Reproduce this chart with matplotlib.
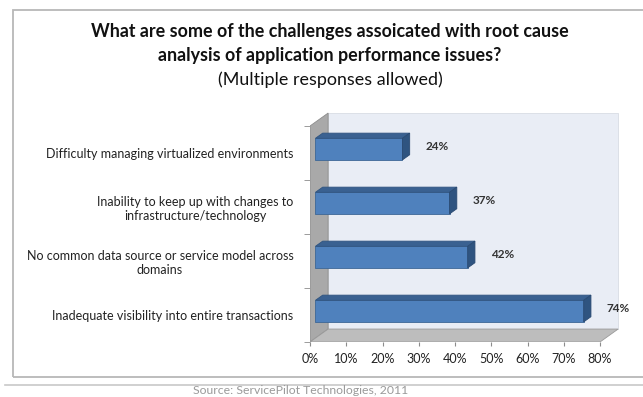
import matplotlib
matplotlib.use("Agg")
import matplotlib.pyplot as plt
from matplotlib.patches import Polygon, Rectangle
from matplotlib.lines import Line2D

plt.rcParams["font.family"] = ["Lato", "DejaVu Sans"]

# data (bottom to top)
categories = [
    "Inadequate visibility into entire transactions",
    "No common data source or service model across\ndomains",
    "Inability to keep up with changes to\ninfrastructure/technology",
    "Difficulty managing virtualized environments",
]
values = [74, 42, 37, 24]
xticks = [0, 10, 20, 30, 40, 50, 60, 70, 80]
xticklabels = [f"{t}%" for t in xticks]
title_lines = ["What are some of the challenges assoicated with root cause",
               "analysis of application performance issues?"]
subtitle = "(Multiple responses allowed)"
source = "Source: ServicePilot Technologies, 2011"

W, H = 643, 397
fig = plt.figure(figsize=(W / 100, H / 100), dpi=100)

# frame around the whole chart, plus the rule under it
fig.add_artist(Rectangle((13 / W, (H - 377) / H), (660 - 13) / W, (377 - 10) / H,
                         transform=fig.transFigure, fill=False, edgecolor="#b8b8b8", lw=1.3))
fig.add_artist(Line2D([5 / W, 1], [(H - 385) / H] * 2, transform=fig.transFigure, color="#c8c8c8", lw=1.2))

for k, line in enumerate(title_lines):
    fig.text(330 / W, 1 - (32 + 24 * k) / H, line, ha="center", va="center", fontsize=12.9,
             fontweight="bold", color="#111111")
fig.text(330 / W, 1 - 80 / H, subtitle, ha="center", va="center", fontsize=12.9, color="#111111")
fig.text(301 / W, 1 - 391 / H, source, ha="center", va="center", fontsize=8.8, color="#9a9a9a")

# plot area: front axis 0..80% spans px 310..600, categories 54 px apart
px_per_pct = 3.625
px_per_cat = 54
ax = fig.add_axes([310 / W, (H - 342) / H, (622 - 310) / W, (342 - 112) / H])
ax.set_xlim(0, (622 - 310) / px_per_pct)
ax.set_ylim(-0.5, -0.5 + (342 - 112) / px_per_cat)
for s in ax.spines.values():
    s.set_visible(False)
ax.set_facecolor("none")

DX, DY = 5.0, 0.24     # depth of the 3d box in data units
f0, f1 = 0.3, 0.7      # bar depth span
top = len(values) - 0.5
xmax = xticks[-1]

ax.add_patch(Polygon([(DX, -0.5 + DY), (xmax + DX, -0.5 + DY), (xmax + DX, top + DY), (DX, top + DY)],
                     closed=True, facecolor="#e9edf5", edgecolor="#d8dce4", lw=0.6, zorder=1))
ax.add_patch(Polygon([(0, -0.5), (DX, -0.5 + DY), (DX, top + DY), (0, top)],
                     closed=True, facecolor="#a9a9a9", edgecolor="#8c8c8c", lw=0.6, zorder=2))
ax.add_patch(Polygon([(0, -0.5), (xmax, -0.5), (xmax + DX, -0.5 + DY), (DX, -0.5 + DY)],
                     closed=True, facecolor="#bdbdbd", edgecolor="#9a9a9a", lw=0.6, zorder=2))

bh = 0.2
for i, v in enumerate(values):
    yb = i + f0 * DY - bh
    yt = i + f0 * DY + bh
    x0 = f0 * DX
    dxb, dyb = (f1 - f0) * DX, (f1 - f0) * DY
    ax.add_patch(Polygon([(x0, yb), (v + x0, yb), (v + x0, yt), (x0, yt)],
                         facecolor="#4f81bd", edgecolor="#3d6796", lw=0.6, zorder=4))
    ax.add_patch(Polygon([(x0, yt), (v + x0, yt), (v + x0 + dxb, yt + dyb), (x0 + dxb, yt + dyb)],
                         facecolor="#3a6191", edgecolor="#2f5480", lw=0.6, zorder=4))
    ax.add_patch(Polygon([(v + x0, yb), (v + x0, yt), (v + x0 + dxb, yt + dyb), (v + x0 + dxb, yb + dyb)],
                         facecolor="#2f5480", edgecolor="#2a4a72", lw=0.6, zorder=4))
    ax.text(v + f1 * DX + 4.3, i + f0 * DY + 0.05, f"{v}%", ha="left", va="center",
            fontsize=8.5, fontweight="bold", color="#333333", zorder=5)

ax.set_xticks(xticks)
ax.set_xticklabels(xticklabels, fontsize=9, color="#222222")
ax.tick_params(axis="x", length=3, color="#8c8c8c", pad=5)
ax.set_yticks(range(len(categories)))
ax.set_yticklabels(categories, fontsize=9, color="#222222")
for lab in ax.get_yticklabels():
    lab.set_multialignment("center")
ax.set_yticks([i + 0.5 for i in range(-1, len(categories))], minor=True)
ax.tick_params(axis="y", which="major", length=0, pad=12)
ax.tick_params(axis="y", which="minor", length=4, color="#8c8c8c")

fig.savefig("out.png", dpi=100)
